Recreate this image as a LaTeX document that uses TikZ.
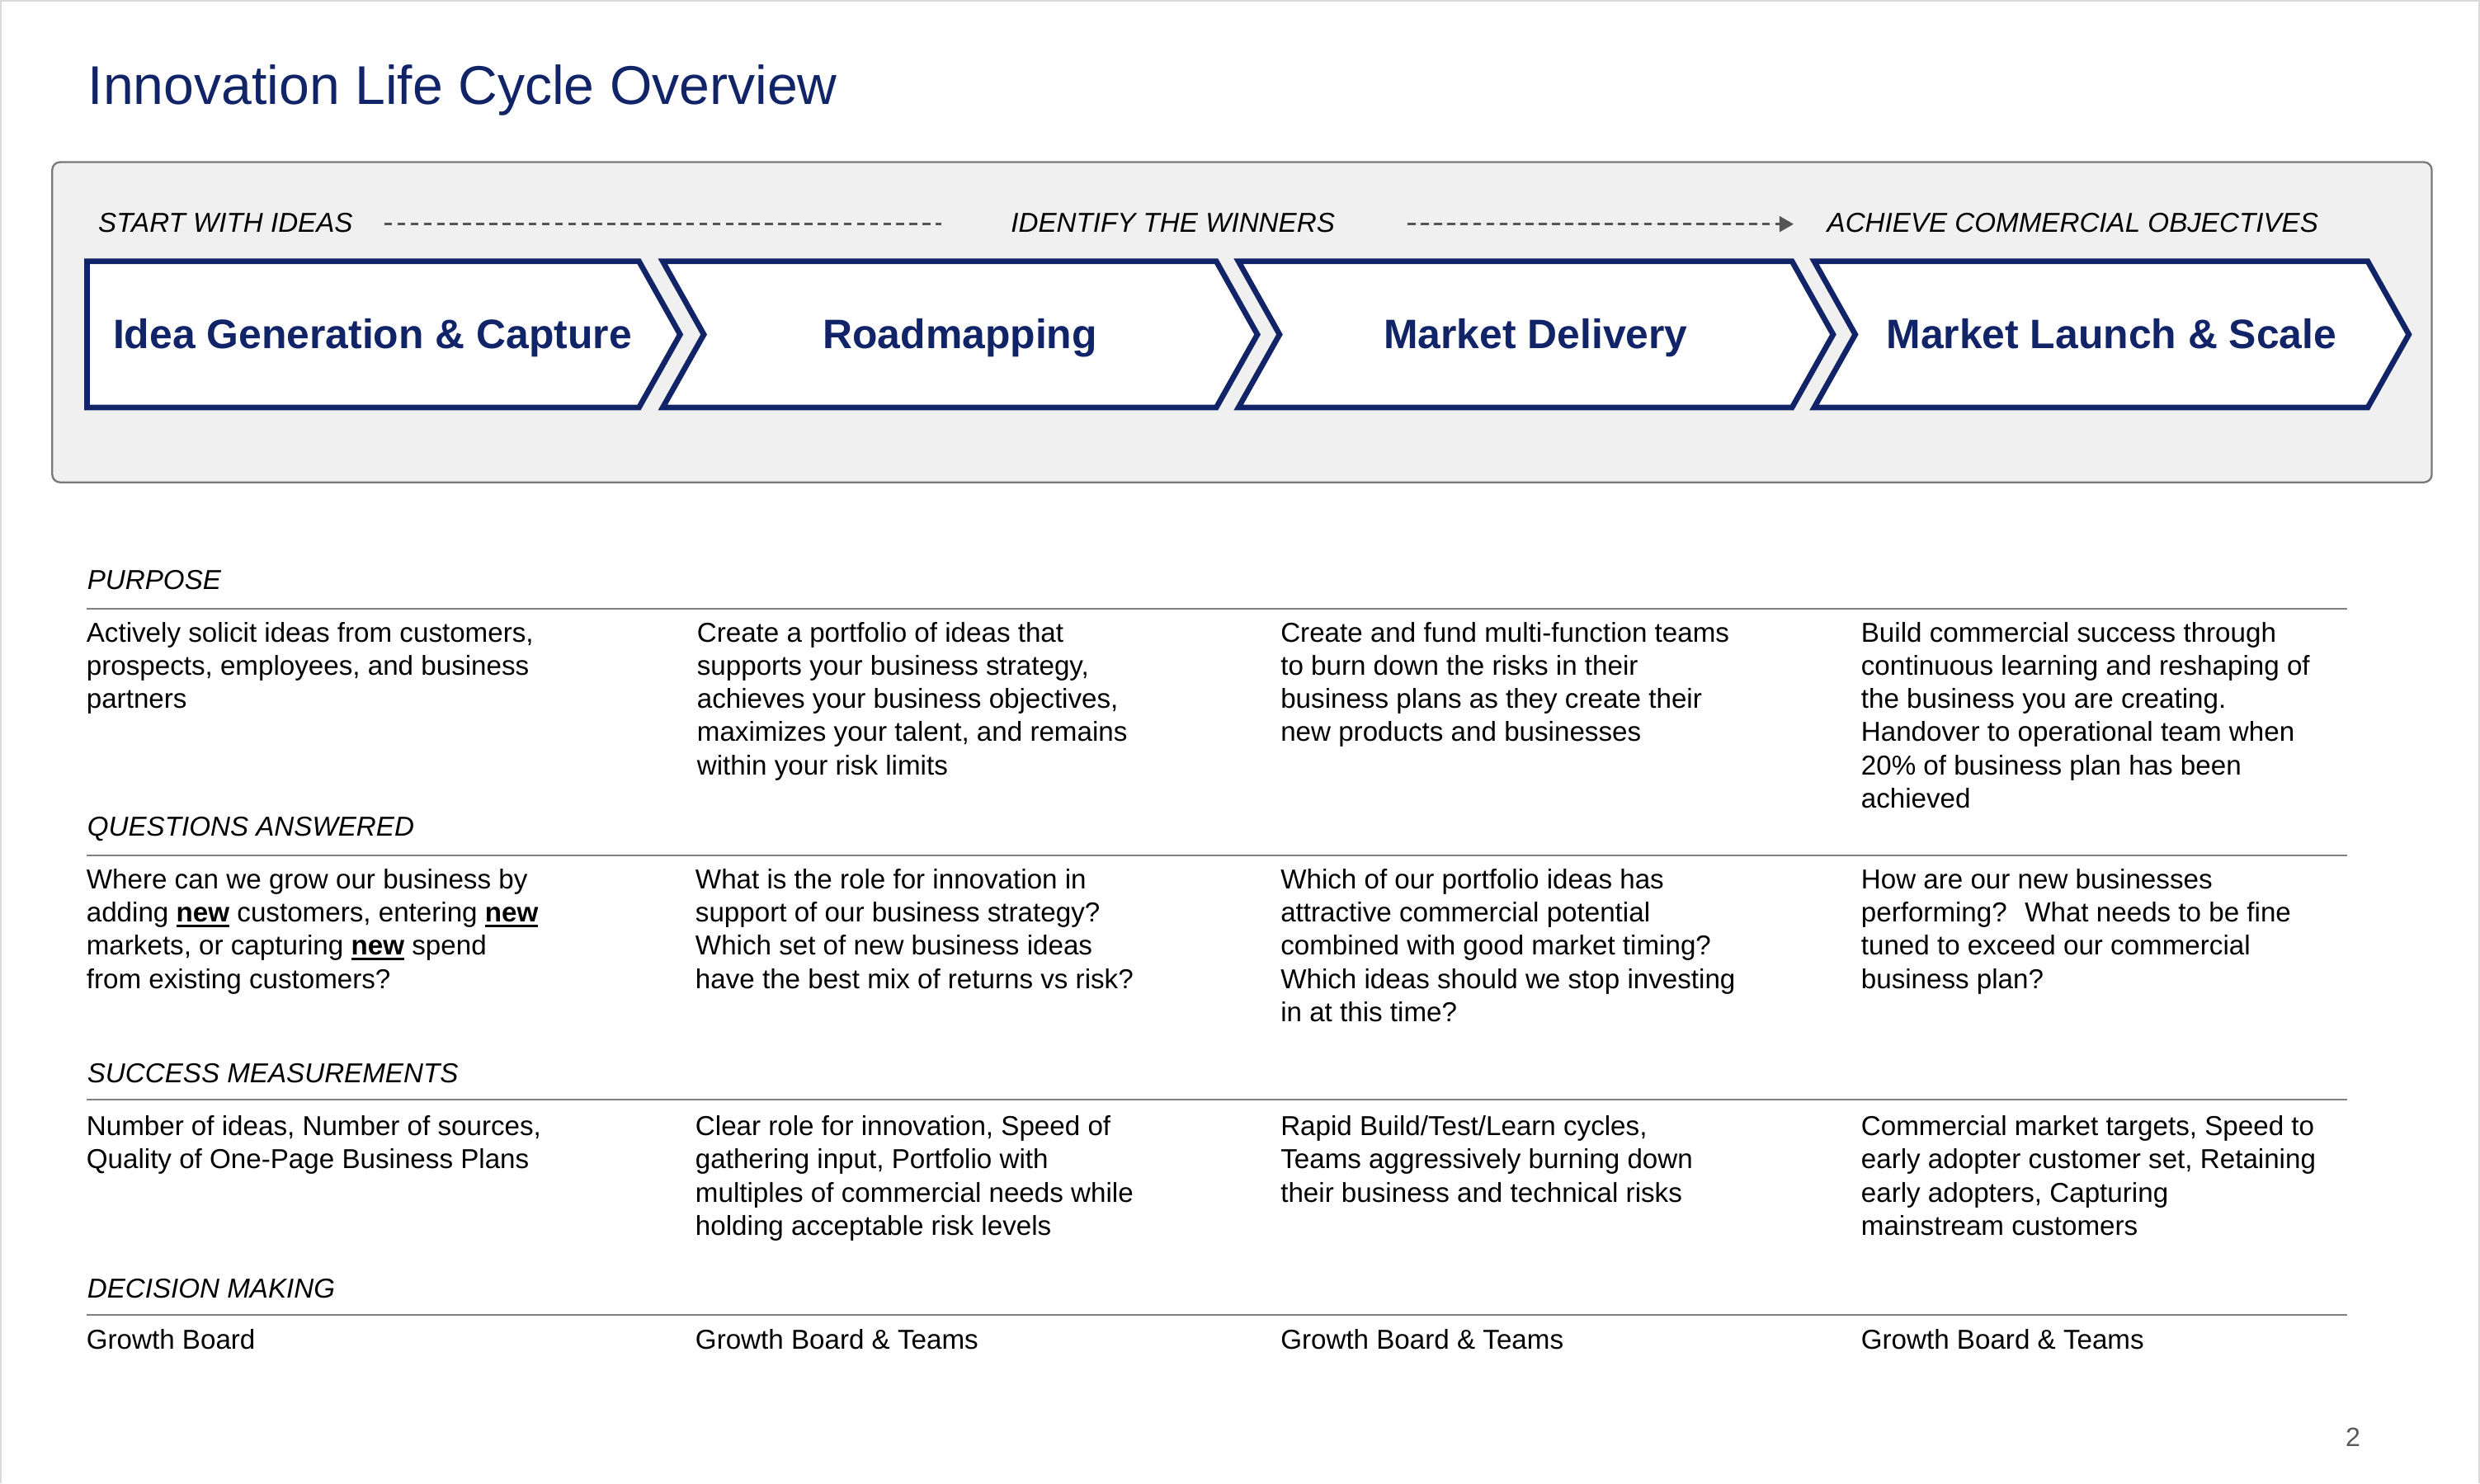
\documentclass[tikz,border=0pt]{standalone}
\usepackage{fontspec}
\setmainfont{Liberation Sans}
\usetikzlibrary{arrows.meta}
\definecolor{navy}{RGB}{18,36,104}
\definecolor{boxgray}{RGB}{240,240,240}
\definecolor{boxedge}{RGB}{120,120,120}
\definecolor{rulegray}{RGB}{128,128,128}
\definecolor{dashgray}{RGB}{85,85,85}
\definecolor{edgegray}{RGB}{218,218,218}
\definecolor{pagenum}{RGB}{89,89,89}
\newcommand\ulnew[1]{\setbox0\hbox{\textbf{#1}}\rlap{\rule[-3.4pt]{\wd0}{1.9pt}}\box0\relax}
\newcommand\bl{\rule{0pt}{14pt}}
\tikzset{
 chev/.style={draw=navy, fill=white, line width=3.5pt, line join=miter, miter limit=10},
 phase/.style={font=\fontsize{26}{31}\selectfont\bfseries, text=navy, anchor=base, inner sep=0},
 stage/.style={font=\fontsize{17.3}{20.9}\selectfont\itshape, anchor=base west, inner sep=0},
 head/.style={font=\fontsize{17.3}{20.9}\selectfont\itshape, anchor=base west, inner sep=0},
 body/.style={font=\fontsize{17.3}{20.9}\selectfont, anchor=north west, inner sep=0, align=left},
 sep/.style={draw=rulegray, line width=1.1pt},
 flow/.style={draw=dashgray, line width=1.3pt, dash pattern=on 5pt off 3.3pt},
}
\begin{document}
\begin{tikzpicture}[x=1pt,y=-1pt]
\useasboundingbox (0,0) rectangle (1568,938);
\fill[white] (0,0) rectangle (1568,938);
\draw[edgegray, line width=2pt] (0,938) -- (0,0) -- (1568,0) -- (1568,938);

% title
\node[font=\fontsize{34.5}{40}\selectfont, text=navy, anchor=base west, inner sep=0] (title) at (55.5,66.1) {Innovation Life Cycle Overview};

% gray panel
\draw[fill=boxgray, draw=boxedge, line width=1.2pt, rounded corners=5pt] (33,102.5) rectangle (1537.5,305);

% stage labels
\node[stage] (s1) at (62,147) {START WITH IDEAS};
\node[stage] (s2) at (639,147) {IDENTIFY THE WINNERS};
\node[stage] (s3) at (1155,147) {ACHIEVE COMMERCIAL OBJECTIVES};
\coordinate (d1a) at (243,141.7);
\coordinate (d1b) at (595,141.7);
\coordinate (d2a) at (890,141.7);
\coordinate (d2b) at (1134,141.7);
\draw[flow] (d1a) -- (d1b);
\draw[flow, -{Triangle[length=9pt,width=10pt]}, fill=dashgray] (d2a) -- (d2b);

% chevrons
\draw[chev] (55,165.2) -- (404,165.2) -- (430,211.5) -- (404,257.7) -- (55,257.7) -- cycle;
\foreach \x in {419,783,1147}{
  \draw[chev] (\x,165.2) -- (\x+350,165.2) -- (\x+376,211.5) -- (\x+350,257.7) -- (\x,257.7) -- (\x+26,211.5) -- cycle;
}
\node[phase] (p1) at (235.5,220.5) {Idea Generation \& Capture};
\node[phase] (p2) at (607,220.5) {Roadmapping};
\node[phase] (p3) at (971,220.5) {Market Delivery};
\node[phase] (p4) at (1335,220.5) {Market Launch \& Scale};

% section headings and rules
\node[head] (h1) at (55,372.5) {PURPOSE};
\node[head] (h2) at (55,528.5) {QUESTIONS ANSWERED};
\node[head] (h3) at (55,684.5) {SUCCESS MEASUREMENTS};
\node[head] (h4) at (55,820.5) {DECISION MAKING};
\draw[sep] (55,385) -- (1484,385);
\draw[sep] (55,541) -- (1484,541);
\draw[sep] (55,695.5) -- (1484,695.5);
\draw[sep] (55,831.5) -- (1484,831.5);

% purpose
\node[body] (a1) at (54.5,392) {\bl Actively solicit ideas from customers,\\prospects, employees, and business\\partners};
\node[body] (a2) at (440.5,392) {\bl Create a portfolio of ideas that\\supports your business strategy,\\achieves your business objectives,\\maximizes your talent, and remains\\within your risk limits};
\node[body] (a3) at (809.5,392) {\bl Create and fund multi-function teams\\to burn down the risks in their\\business plans as they create their\\new products and businesses};
\node[body] (a4) at (1176.5,392) {\bl Build commercial success through\\continuous learning and reshaping of\\the business you are creating.\\Handover to operational team when\\20\% of business plan has been\\achieved};

% questions
\node[body] (b1) at (54.5,548) {\bl Where can we grow our business by\\adding \ulnew{new} customers, entering \ulnew{new}\\markets, or capturing \ulnew{new} spend\\from existing customers?};
\node[body] (b2) at (439.5,548) {\bl What is the role for innovation in\\support of our business strategy?\\Which set of new business ideas\\have the best mix of returns vs risk?};
\node[body] (b3) at (809.5,548) {\bl Which of our portfolio ideas has\\attractive commercial potential\\combined with good market timing?\\Which ideas should we stop investing\\in at this time?};
\node[body] (b4) at (1176.5,548) {\bl How are our new businesses\\performing?~ What needs to be fine\\tuned to exceed our commercial\\business plan?};

% success
\node[body] (c1) at (54.5,704) {\bl Number of ideas, Number of sources,\\Quality of One-Page Business Plans};
\node[body] (c2) at (439.5,704) {\bl Clear role for innovation, Speed of\\gathering input, Portfolio with\\multiples of commercial needs while\\holding acceptable risk levels};
\node[body] (c3) at (809.5,704) {\bl Rapid Build/Test/Learn cycles,\\Teams aggressively burning down\\their business and technical risks};
\node[body] (c4) at (1176.5,704) {\bl Commercial market targets, Speed to\\early adopter customer set, Retaining\\early adopters, Capturing\\mainstream customers};

% decision
\node[body] (e1) at (54.5,839) {\bl Growth Board};
\node[body] (e2) at (439.5,839) {\bl Growth Board \& Teams};
\node[body] (e3) at (809.5,839) {\bl Growth Board \& Teams};
\node[body] (e4) at (1176.5,839) {\bl Growth Board \& Teams};

% page number
\node[font=\fontsize{16.8}{20}\selectfont, text=pagenum, anchor=base east, inner sep=0] (pg) at (1492.5,914.5) {2};
\end{tikzpicture}
\end{document}
